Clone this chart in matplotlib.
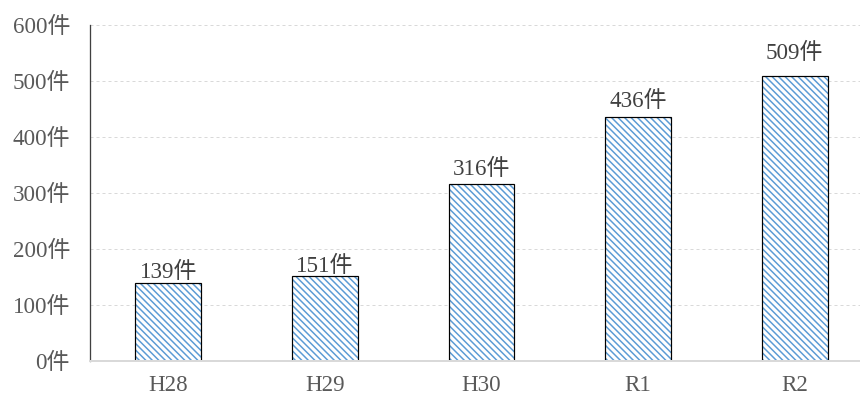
import matplotlib.pyplot as plt
import numpy as np

DPI = 117  # hatch tile is one inch, so dpi sets the stripe spacing


def pt(px):
    # pixel size -> points at the output dpi
    return px * 72 / DPI


plt.rcParams['font.family'] = ['Liberation Serif', 'Noto Sans CJK JP']
plt.rcParams['hatch.linewidth'] = pt(1.5)

years = ['H28', 'H29', 'H30', 'R1', 'R2']
counts = [139, 151, 316, 436, 509]
yticks = [0, 100, 200, 300, 400, 500, 600]

# gap between bar top and its label, in pixels
label_gap = [5, 4, 9, 10, 17]

fig = plt.figure(figsize=(860 / DPI, 396 / DPI), dpi=DPI)
# right edge of the plot area runs past the figure border
ax = fig.add_axes([90 / 860, 35 / 396, 783 / 860, 336 / 396])

x = np.arange(len(years))
w = 0.42
# hatch drawn in blue, outline drawn separately in black
ax.bar(x, counts, w, color='white', edgecolor='#5b9bd5', hatch='\\' * 6, linewidth=0, zorder=3)
ax.bar(x, counts, w, fill=False, edgecolor='black', linewidth=pt(1.2), zorder=4)

for xi, c, g in zip(x, counts, label_gap):
    ax.annotate(f'{c}件', xy=(xi, c), xytext=(0, pt(g)), textcoords='offset points',
                ha='center', va='baseline', fontsize=pt(23), color='#404040')

ax.set_xlim(-0.5, len(years) - 0.5)
ax.set_ylim(0, 600)
ax.set_yticks(yticks)
ax.set_yticklabels([f'{v}件' for v in yticks])
ax.set_xticks(x)
ax.set_xticklabels(years)
ax.tick_params(axis='y', length=0, pad=pt(20), labelsize=pt(23), labelcolor='#595959')
ax.tick_params(axis='x', length=0, pad=pt(14), labelsize=pt(23), labelcolor='#595959')

ax.yaxis.grid(True, color='#d9d9d9', linestyle=(0, (3, 3)), linewidth=pt(1.0))
ax.set_axisbelow(True)
for s in ['top', 'right']:
    ax.spines[s].set_visible(False)
ax.spines['left'].set_color('#404040')
ax.spines['left'].set_linewidth(pt(1.3))
ax.spines['bottom'].set_color('#d9d9d9')
ax.spines['bottom'].set_linewidth(pt(2.0))
ax.spines['bottom'].set_zorder(5)

fig.savefig('out.png', dpi=DPI)
